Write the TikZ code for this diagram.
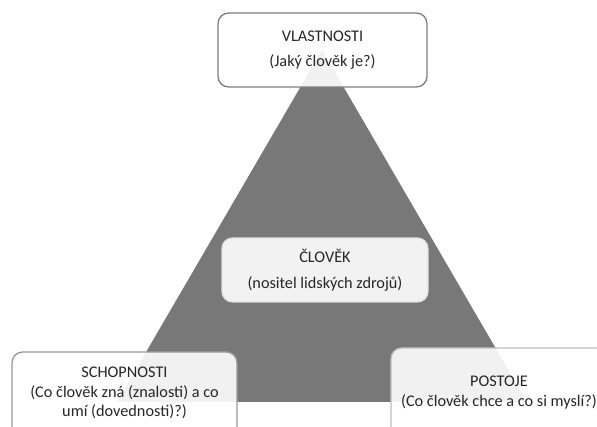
\documentclass[tikz,border=0pt]{standalone}
\usepackage{fontspec}
\setmainfont{Carlito}

\begin{document}
\begin{tikzpicture}[x=0.75pt, y=-0.75pt,
    font=\fontsize{12.2}{14.6}\selectfont,
    box/.style={draw=black!40, line width=1pt, fill=white, fill opacity=0.9,
      text opacity=1, text=black!85, rounded corners=8pt, align=center},
    txt/.style={align=center, text=black!85}]
    \useasboundingbox (0,0) rectangle (597,427);
    \clip (0,0) rectangle (597,427);

    % pyramid
    \fill[black!53] (322,50) -- (527,402) -- (117,402) -- cycle;

    \node[box, draw=black!50, minimum width=156.75pt, minimum height=55.5pt]
      (vlastnosti) at (322.5,50) {VLASTNOSTI\\[4pt](Jaký člověk je?)};

    \node[box, draw=black!12, fill opacity=1, fill=black!5,
      minimum width=154.5pt, minimum height=48pt]
      (clovek) at (325,270) {ČLOVĚK\\[5pt](nositel lidských zdrojů)};

    % bottom boxes run off the page
    \node[box, minimum width=168.75pt, minimum height=81pt]
      (schopnosti) at (124.5,406) {};
    \node[txt] (schopnosti-txt) at (124.5,393)
      {SCHOPNOSTI\\(Co člověk zná (znalosti) a co\\umí (dovednosti)?)};

    \node[box, draw=black!25, minimum width=162pt, minimum height=84pt]
      (postoje) at (499,404) {};
    \node[txt] (postoje-txt) at (499,392.5)
      {POSTOJE\\[1pt](Co člověk chce a co si myslí?)};
  \end{tikzpicture}
\end{document}
